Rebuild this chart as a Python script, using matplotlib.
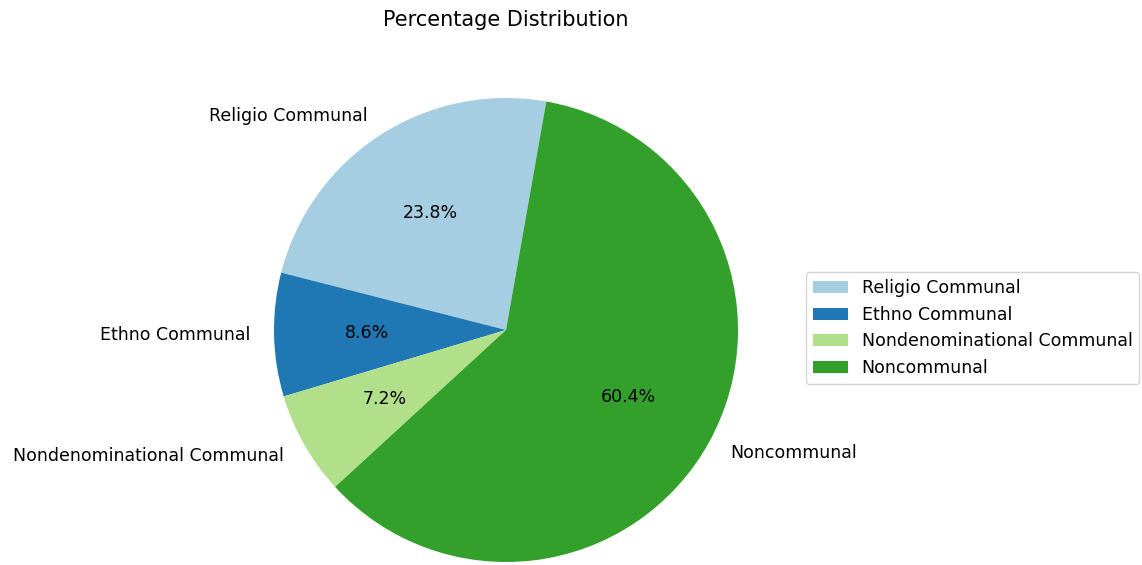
import numpy as np
import matplotlib
matplotlib.use('Agg')
import matplotlib.pyplot as plt

labels = ['Religio Communal', 'Ethno Communal', 'Nondenominational Communal', 'Noncommunal']
shares = [23.8, 8.6, 7.2, 60.4]

colors = plt.cm.Paired(np.arange(4))

fig = plt.figure(figsize=(11.42, 5.65), dpi=100)
# pie centre ~ (505, 330) px, radius ~ 232 px -> axes span 2.5 radii
W, H = 1142.0, 565.0
cx, cy, r = 506.0, 330.0, 232.0
half = 1.25 * r
ax = fig.add_axes([(cx - half) / W, (H - cy - half) / H, 2 * half / W, 2 * half / H])

fs = 12.5
wedges, texts, autotexts = ax.pie(shares, labels=labels, colors=colors,
                                  autopct='%1.1f%%', startangle=80,
                                  textprops={'fontsize': fs})
ax.set_xlim(-1.25, 1.25)
ax.set_ylim(-1.25, 1.25)
ax.set_aspect('equal', adjustable='box')

fig.text(cx / W, 1 - 20 / H, 'Percentage Distribution', ha='center', va='center',
         fontsize=fs * 1.2)

fig.legend(wedges, labels, loc='center left', bbox_to_anchor=(806 / W, 1 - 328 / H),
           fontsize=fs, borderaxespad=0)

fig.savefig('out.png', dpi=100)
